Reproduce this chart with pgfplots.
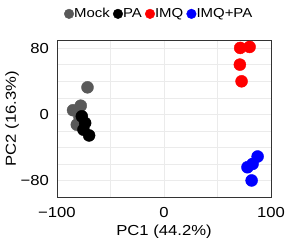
\documentclass[border=0pt]{standalone}
\usepackage{pgfplots}
\pgfplotsset{compat=1.18}
\usepackage{fontspec}
\setmainfont[FakeStretch=1.15]{Liberation Sans}
\definecolor{mockgray}{HTML}{595959}
\definecolor{gridgray}{HTML}{EBEBEB}
\begin{document}
\fontsize{14.5}{16}\selectfont
\begin{tikzpicture}
\begin{axis}[
  scale only axis,
  width=214pt, height=157pt,
  xmin=-100, xmax=100, ymin=-100, ymax=90,
  xtick={-100,0,100}, xticklabels={−100,0,100},
  ytick={-80,0,80}, yticklabels={−80,0,80},
  minor xtick={-50,50},
  minor ytick={-100,-60,-40,-20,20,40,60},
  grid=both,
  major grid style={gridgray, line width=0.6pt},
  minor grid style={gridgray, line width=0.6pt},
  major tick length=0pt, minor tick length=0pt,
  tick label style={font=\fontsize{14.5}{16}\selectfont},
  xticklabel style={yshift=-5pt},
  yticklabel style={xshift=-3pt},
  axis line style={black!80, line width=0.8pt},
  xlabel={PC1 (44.2\%)}, ylabel={PC2 (16.3\%)},
  label style={font=\fontsize{14.5}{16}\selectfont},
  xlabel style={yshift=2pt},
  ylabel style={yshift=-8pt},
  legend columns=4,
  legend style={draw=none, fill=none, inner sep=1pt,
    at={(axis description cs:0.474,1.12)}, anchor=south,
    font=\fontsize{13}{15}\selectfont,
    /tikz/every odd column/.append style={column sep=0pt},
    /tikz/every even column/.append style={column sep=3pt},
    nodes={inner sep=0.3pt}},
  legend image code/.code={\draw[mark size=4.8pt] plot[only marks] coordinates {(4.8pt,0pt)};},
  clip=false,
]
\addplot[only marks, mark=*, mark size=6pt, color=mockgray] coordinates {
(-71.5,32.7) (-85,5) (-77.8,10.5) (-81.5,-12.5) (-79,-3)
};
\addlegendentry{Mock}
\addplot[only marks, mark=*, mark size=6pt, color=black] coordinates {
(-76.8,-2.4) (-73.7,-10.5) (-75.3,-18.5) (-70,-25.5)
};
\addlegendentry{PA}
\addplot[only marks, mark=*, mark size=6pt, color=red] coordinates {
(71.2,80.4) (80,81.6) (70.9,60.2) (72.5,40)
};
\addlegendentry{IMQ}
\addplot[only marks, mark=*, mark size=6pt, color=blue] coordinates {
(87.5,-51) (82.8,-60) (78,-64) (81.9,-80)
};
\addlegendentry{IMQ+PA}
\end{axis}
\pgfresetboundingbox
\path (current axis.south west) ++(-57pt,-43pt) coordinate (bbA);
\path (current axis.north east) ++(16pt,40pt) coordinate (bbB);
\useasboundingbox (bbA) rectangle (bbB);
\end{tikzpicture}
\end{document}
